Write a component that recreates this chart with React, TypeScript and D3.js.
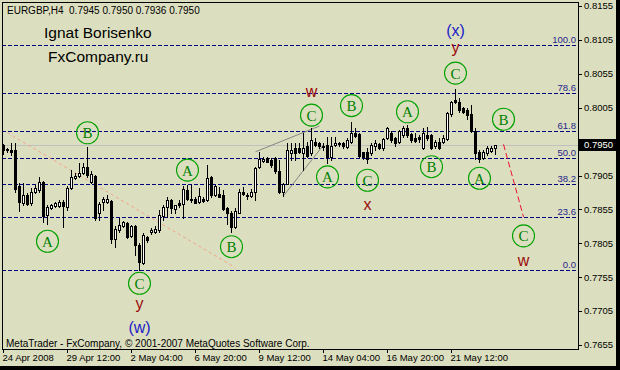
import * as d3 from "d3";

const WIDTH = 620;
const HEIGHT = 370;
const PLOT = { left: 2, top: 2, right: 578, bottom: 349 };
const BG = "#dcdfbf";
const SANS = "'Liberation Sans', Arial, sans-serif";

// EURGBP H4, [open, high, low, close]
const candles: [number, number, number, number][] = [
  [0.7950, 0.7951, 0.7937, 0.7943], [0.7944, 0.7946, 0.7940, 0.7942], [0.7943, 0.7953, 0.7935, 0.7939],
  [0.7942, 0.7953, 0.7881, 0.7885], [0.7889, 0.7894, 0.7852, 0.7866], [0.7864, 0.7894, 0.7862, 0.7876],
  [0.7876, 0.7879, 0.7862, 0.7863], [0.7864, 0.7887, 0.7862, 0.7881], [0.7880, 0.7891, 0.7879, 0.7886],
  [0.7884, 0.7903, 0.7881, 0.7896], [0.7896, 0.7897, 0.7837, 0.7845], [0.7847, 0.7862, 0.7834, 0.7858],
  [0.7857, 0.7863, 0.7855, 0.7862], [0.7860, 0.7866, 0.7859, 0.7864], [0.7860, 0.7869, 0.7858, 0.7866],
  [0.7866, 0.7869, 0.7829, 0.7860], [0.7859, 0.7889, 0.7854, 0.7886], [0.7886, 0.7913, 0.7885, 0.7903],
  [0.7901, 0.7908, 0.7900, 0.7905], [0.7905, 0.7923, 0.7903, 0.7909], [0.7908, 0.7923, 0.7907, 0.7918],
  [0.7918, 0.7947, 0.7903, 0.7906], [0.7896, 0.7911, 0.7894, 0.7907], [0.7904, 0.7906, 0.7840, 0.7842],
  [0.7850, 0.7866, 0.7839, 0.7863], [0.7866, 0.7874, 0.7854, 0.7870], [0.7866, 0.7876, 0.7865, 0.7870],
  [0.7868, 0.7869, 0.7805, 0.7812], [0.7812, 0.7830, 0.7800, 0.7826], [0.7825, 0.7842, 0.7822, 0.7832],
  [0.7830, 0.7838, 0.7829, 0.7836], [0.7835, 0.7837, 0.7813, 0.7815], [0.7816, 0.7832, 0.7815, 0.7830],
  [0.7830, 0.7832, 0.7788, 0.7803], [0.7803, 0.7805, 0.7766, 0.7778], [0.7776, 0.7820, 0.7775, 0.7817],
  [0.7814, 0.7816, 0.7807, 0.7810], [0.7821, 0.7827, 0.7819, 0.7825], [0.7822, 0.7830, 0.7820, 0.7826],
  [0.7824, 0.7854, 0.7822, 0.7847], [0.7845, 0.7862, 0.7839, 0.7858], [0.7859, 0.7874, 0.7844, 0.7869],
  [0.7869, 0.7871, 0.7849, 0.7857], [0.7855, 0.7862, 0.7849, 0.7862], [0.7864, 0.7869, 0.7859, 0.7862],
  [0.7863, 0.7889, 0.7843, 0.7885], [0.7883, 0.7891, 0.7869, 0.7870], [0.7871, 0.7891, 0.7866, 0.7869],
  [0.7871, 0.7874, 0.7864, 0.7865], [0.7866, 0.7886, 0.7865, 0.7875], [0.7871, 0.7874, 0.7866, 0.7868],
  [0.7869, 0.7920, 0.7868, 0.7901], [0.7903, 0.7904, 0.7874, 0.7876], [0.7876, 0.7891, 0.7875, 0.7889],
  [0.7878, 0.7888, 0.7873, 0.7874], [0.7876, 0.7884, 0.7854, 0.7856], [0.7857, 0.7859, 0.7834, 0.7849],
  [0.7849, 0.7852, 0.7821, 0.7829], [0.7829, 0.7857, 0.7828, 0.7852], [0.7850, 0.7885, 0.7849, 0.7881],
  [0.7881, 0.7888, 0.7876, 0.7878], [0.7876, 0.7879, 0.7871, 0.7875], [0.7875, 0.7885, 0.7874, 0.7881],
  [0.7881, 0.7918, 0.7869, 0.7916], [0.7918, 0.7940, 0.7916, 0.7929], [0.7927, 0.7933, 0.7925, 0.7929],
  [0.7931, 0.7933, 0.7925, 0.7925], [0.7928, 0.7931, 0.7918, 0.7920], [0.7931, 0.7932, 0.7908, 0.7911],
  [0.7911, 0.7928, 0.7879, 0.7880], [0.7880, 0.7894, 0.7875, 0.7893], [0.7893, 0.7953, 0.7892, 0.7943],
  [0.7938, 0.7953, 0.7928, 0.7943], [0.7946, 0.7953, 0.7928, 0.7938], [0.7946, 0.7953, 0.7938, 0.7939],
  [0.7938, 0.7967, 0.7913, 0.7946], [0.7948, 0.7955, 0.7933, 0.7934], [0.7938, 0.7975, 0.7935, 0.7957],
  [0.7955, 0.7960, 0.7949, 0.7950], [0.7953, 0.7955, 0.7946, 0.7948], [0.7949, 0.7953, 0.7943, 0.7947],
  [0.7950, 0.7962, 0.7924, 0.7933], [0.7933, 0.7962, 0.7928, 0.7949], [0.7950, 0.7962, 0.7948, 0.7953],
  [0.7951, 0.7955, 0.7949, 0.7953], [0.7953, 0.7955, 0.7946, 0.7948], [0.7947, 0.7960, 0.7946, 0.7958],
  [0.7955, 0.7984, 0.7953, 0.7967], [0.7968, 0.7975, 0.7962, 0.7963], [0.7966, 0.7967, 0.7933, 0.7934],
  [0.7939, 0.7940, 0.7930, 0.7933], [0.7939, 0.7945, 0.7923, 0.7930], [0.7938, 0.7953, 0.7935, 0.7950],
  [0.7948, 0.7957, 0.7943, 0.7953], [0.7951, 0.7953, 0.7944, 0.7946], [0.7945, 0.7960, 0.7943, 0.7959],
  [0.7960, 0.7977, 0.7959, 0.7975], [0.7967, 0.7970, 0.7955, 0.7957], [0.7960, 0.7962, 0.7949, 0.7953],
  [0.7954, 0.7972, 0.7953, 0.7970], [0.7965, 0.7978, 0.7962, 0.7975], [0.7975, 0.7979, 0.7962, 0.7965],
  [0.7966, 0.7967, 0.7955, 0.7957], [0.7960, 0.7967, 0.7955, 0.7956], [0.7962, 0.7964, 0.7955, 0.7959],
  [0.7945, 0.7975, 0.7944, 0.7967], [0.7965, 0.7977, 0.7957, 0.7961], [0.7965, 0.7966, 0.7944, 0.7946],
  [0.7948, 0.7957, 0.7945, 0.7955], [0.7954, 0.7960, 0.7944, 0.7945], [0.7955, 0.7965, 0.7953, 0.7960],
  [0.7959, 0.7999, 0.7957, 0.7997], [0.7995, 0.8015, 0.7993, 0.8014], [0.8016, 0.8033, 0.8012, 0.8014],
  [0.8014, 0.8019, 0.7999, 0.8002], [0.8004, 0.8006, 0.7997, 0.7999], [0.8002, 0.8004, 0.7989, 0.7994],
  [0.7995, 0.8009, 0.7969, 0.7970], [0.7970, 0.7975, 0.7930, 0.7938], [0.7940, 0.7943, 0.7925, 0.7930],
  [0.7931, 0.7943, 0.7929, 0.7940], [0.7938, 0.7948, 0.7935, 0.7945], [0.7941, 0.7948, 0.7940, 0.7946],
  [0.7945, 0.7950, 0.7936, 0.7950],
];

const timeLabels = ["24 Apr 2008", "29 Apr 12:00", "2 May 04:00", "6 May 20:00", "9 May 12:00", "14 May 04:00", "16 May 20:00", "21 May 12:00"];
const timeLabelBars = [0, 16, 32, 48, 64, 80, 96, 112];

const priceTicks = [0.8155, 0.8105, 0.8055, 0.8005, 0.7955, 0.7905, 0.7855, 0.7805, 0.7755, 0.7705, 0.7655];
const lastPrice = 0.795;

const fibLow = 0.7765;
const fibHigh = 0.8098;
const fibLevels = [0, 23.6, 38.2, 50, 61.8, 78.6, 100];

// elliott wave marks: [bar, price, label]
const circleMarks: [number, number, string][] = [
  [11, 0.7808, "A"], [21, 0.7968, "B"], [34, 0.7746, "C"], [46, 0.7913, "A"], [57, 0.78, "B"],
  [77, 0.7994, "C"], [81, 0.7903, "A"], [87, 0.8008, "B"], [91, 0.7898, "C"], [101, 0.7999, "A"],
  [107, 0.7918, "B"], [113, 0.8056, "C"], [119, 0.7901, "A"], [125, 0.7988, "B"], [130, 0.7816, "C"],
];
const redMarks: [number, number, string][] = [
  [77, 0.8021, "w"], [113, 0.8086, "y"], [91, 0.7854, "x"], [34, 0.7708, "y"], [130, 0.7772, "w"],
];
const blueMarks: [number, number, string][] = [
  [113, 0.8111, "(x)"], [34, 0.7673, "(w)"],
];

// [bar1, price1, bar2, price2]
const channelLines: [number, number, number, number][] = [
  [63, 0.794, 79, 0.7978],
  [70, 0.7875, 80, 0.795],
];
const salmonLine: [number, number, number, number] = [1, 0.7968, 58, 0.7769];
const forecastLine: [number, number, number, number] = [125, 0.7951, 130, 0.7844];

const x = d3.scaleLinear().domain([0, 1]).range([3.5, 7.5]);
const y = d3.scaleLinear().domain([0.7655, 0.8155]).range([345, 6]);
const crisp = (v: number) => Math.round(v) + 0.5;
const fmt = d3.format(".4f");

function Candle({ i, d }: { i: number; d: [number, number, number, number] }) {
  const [o, h, l, c] = d;
  const cx = x(i);
  const yh = Math.round(y(h));
  const yl = Math.round(y(l));
  const top = Math.round(y(Math.max(o, c)));
  const bot = Math.round(y(Math.min(o, c)));
  return (
    <g>
      <rect x={cx - 0.5} y={yh} width={1} height={yl - yh + 1} fill="#000" />
      {c < o || bot - top < 2 ? (
        <rect x={cx - 1.5} y={top} width={3} height={Math.max(1, bot - top + 1)} fill="#000" />
      ) : (
        <rect x={cx - 1} y={top + 0.5} width={2} height={bot - top} fill="#fff" stroke="#000" strokeWidth={1} />
      )}
    </g>
  );
}

export default function App() {
  const fibY = (lvl: number) => crisp(y(fibLow + (fibHigh - fibLow) * lvl / 100));
  const lastY = y(lastPrice);
  const boxTop = Math.round(lastY) - 6;
  return (
    <svg width={WIDTH} height={HEIGHT} style={{ position: "fixed", left: 0, top: 0 }} fontFamily={SANS}>
      <defs>
        <clipPath id="plot">
          <rect x={PLOT.left} y={PLOT.top} width={PLOT.right - PLOT.left} height={PLOT.bottom - PLOT.top} />
        </clipPath>
        <clipPath id="abovebox">
          <rect x={PLOT.right} y={0} width={WIDTH - PLOT.right} height={boxTop} />
        </clipPath>
      </defs>
      <rect width={WIDTH} height={HEIGHT} fill={BG} />

      <g clipPath="url(#plot)">
        {/* bid line */}
        <line x1={PLOT.left} x2={PLOT.right} y1={crisp(lastY)} y2={crisp(lastY)} stroke="#c0c0c0" />

        {/* fibo levels */}
        {fibLevels.map((lvl) => (
          <g key={lvl}>
            <line x1={PLOT.left} x2={PLOT.right} y1={fibY(lvl)} y2={fibY(lvl)} stroke="#000080" strokeDasharray="4 2" />
            <text x={576} y={fibY(lvl) - 2.5} textAnchor="end" fontSize={9.5} fill="#24248c">
              {lvl.toFixed(1)}
            </text>
          </g>
        ))}

        <line x1={x(salmonLine[0])} y1={y(salmonLine[1])} x2={x(salmonLine[2])} y2={y(salmonLine[3])}
          stroke="#f4a08a" strokeDasharray="3 3" />
        {channelLines.map((l, k) => (
          <line key={k} x1={x(l[0])} y1={y(l[1])} x2={x(l[2])} y2={y(l[3])} stroke="#7a7a7a" strokeWidth={0.9} />
        ))}

        {candles.map((d, i) => <Candle key={i} i={i} d={d} />)}

        <line x1={x(forecastLine[0])} y1={y(forecastLine[1])} x2={x(forecastLine[2])} y2={y(forecastLine[3])}
          stroke="#f01030" strokeDasharray="6 3" />

        {circleMarks.map(([b, p, t], k) => (
          <g key={k}>
            <circle cx={x(b)} cy={y(p)} r={11} fill="none" stroke="#00a000" strokeWidth={1.1} />
            <text x={x(b)} y={y(p) + 5.5} textAnchor="middle" fontSize={15}
              fontFamily="'Liberation Serif', 'Times New Roman', serif" fill="#008000">{t}</text>
          </g>
        ))}
        {redMarks.map(([b, p, t], k) => (
          <text key={k} x={x(b)} y={y(p)} textAnchor="middle" fontSize={16} fill="#9a0a0a">{t}</text>
        ))}
        {blueMarks.map(([b, p, t], k) => (
          <text key={k} x={x(b)} y={y(p)} textAnchor="middle" fontSize={16} fill="#2020c8">{t}</text>
        ))}

        <text x={7} y={13.5} fontSize={10} fill="#000" xmlSpace="preserve">EURGBP,H4  0.7945 0.7950 0.7936 0.7950</text>
        <text x={44} y={37.5} fontSize={15.5} fill="#000">Ignat Borisenko</text>
        <text x={48} y={61.5} fontSize={15.5} fill="#000">FxCompany.ru</text>
        <text x={6} y={347} fontSize={10} fill="#000">MetaTrader - FxCompany, © 2001-2007 MetaQuotes Software Corp.</text>
      </g>

      {/* frame */}
      <rect x={PLOT.left + 0.5} y={PLOT.top + 0.5} width={PLOT.right - PLOT.left} height={PLOT.bottom - PLOT.top}
        fill="none" stroke="#000" />

      {/* price axis */}
      {priceTicks.map((p) => (
        <g key={p} clipPath={Math.abs(p - lastPrice) < 0.001 ? "url(#abovebox)" : undefined}>
          <line x1={PLOT.right} x2={PLOT.right + 4} y1={crisp(y(p))} y2={crisp(y(p))} stroke="#000" />
          <text x={584} y={y(p)} dy="0.35em" fontSize={9.5} fill="#000">{fmt(p)}</text>
        </g>
      ))}
      <rect x={579} y={boxTop} width={37} height={12} fill="#000" />
      <text x={584} y={lastY} dy="0.35em" fontSize={9.5} fill="#fff">{fmt(lastPrice)}</text>

      {/* time axis */}
      {timeLabelBars.map((b, k) => (
        <g key={b}>
          <line x1={x(b)} x2={x(b)} y1={PLOT.bottom} y2={PLOT.bottom + 4} stroke="#000" />
          <text x={x(b) - 1} y={361} fontSize={9.5} fill="#000">{timeLabels[k]}</text>
        </g>
      ))}

      {/* window border */}
      <rect x={616} y={0} width={4} height={HEIGHT} fill="#000" />
      <rect x={0} y={366} width={WIDTH} height={4} fill="#000" />
    </svg>
  );
}
